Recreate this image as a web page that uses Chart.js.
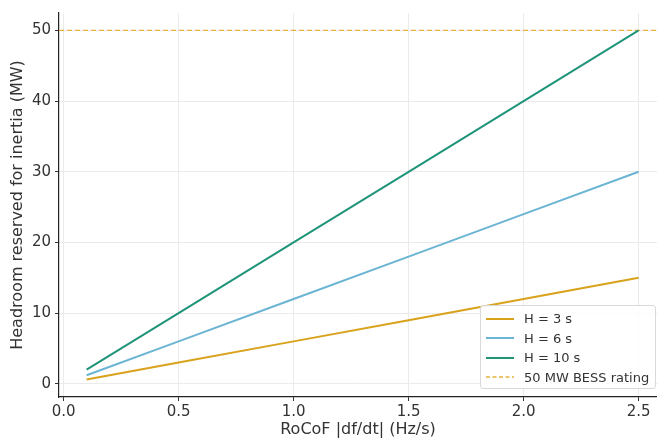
<!DOCTYPE html>
<html>
<head>
<meta charset="utf-8">
<script src="https://cdn.jsdelivr.net/npm/chart.js@4/dist/chart.umd.min.js"></script>
<style>
  html, body { margin: 0; padding: 0; background: #fff; }
  #wrap { position: relative; width: 657px; height: 442px; }
  #legend {
    position: absolute; left: 480px; top: 305px; width: 176px; height: 84px;
    border: 1px solid #d9d9d9; border-radius: 3px; background: rgba(255,255,255,0.85);
    font-family: "DejaVu Sans", sans-serif; font-size: 13px; color: #333;
    box-sizing: border-box; padding-top: 3px;
  }
  .item { display: flex; align-items: center; height: 19.5px; }
  .item svg { margin-left: 5px; margin-right: 10px; }
</style>
</head>
<body>
<div id="wrap">
  <canvas id="chart" width="657" height="442"></canvas>
  <div id="legend"></div>
</div>
<script>
(function() {
  // RoCoF values (Hz/s) and headroom (MW)
  const rocof = [0.1, 0.5, 1.0, 1.5, 2.0, 2.5];
  const headroomH3 = [0.6, 3, 6, 9, 12, 15];
  const headroomH6 = [1.2, 6, 12, 18, 24, 30];
  const headroomH10 = [2, 10, 20, 30, 40, 50];
  const seriesNames = ['H = 3 s', 'H = 6 s', 'H = 10 s'];
  const ratingName = '50 MW BESS rating';
  const bessRating = 50;

  const colors = ['#d9a21b', '#6bb4d4', '#1f9479'];
  const ratingColor = '#e4b43a';

  const xMin = -0.02, xMax = 2.58;
  const yMin = -1.87, yMax = 52.47;

  function toPoints(ys) {
    return rocof.map((x, i) => ({ x: x, y: ys[i] }));
  }

  const seriesValues = [headroomH3, headroomH6, headroomH10];
  const datasets = seriesValues.map((ys, i) => ({
    label: seriesNames[i],
    data: toPoints(ys),
    borderColor: colors[i],
    borderWidth: 2,
    pointRadius: 0,
    fill: false,
    tension: 0
  }));
  datasets.push({
    label: ratingName,
    data: [{ x: xMin, y: bessRating }, { x: xMax, y: bessRating }],
    borderColor: ratingColor,
    borderWidth: 1.3,
    borderDash: [5, 3],
    pointRadius: 0,
    fill: false
  });

  const font = { family: '"DejaVu Sans", sans-serif', size: 15 };
  const titleFont = { family: '"DejaVu Sans", sans-serif', size: 16 };
  const gridOpts = {
    color: '#ebebeb',
    lineWidth: 1,
    tickColor: '#333',
    tickLength: 4,
    drawTicks: true
  };

  new Chart(document.getElementById('chart').getContext('2d'), {
    type: 'line',
    data: { datasets: datasets },
    options: {
      responsive: false,
      animation: false,
      layout: { padding: { top: 5, right: 0, left: 8, bottom: 0 } },
      plugins: { legend: { display: false }, tooltip: { enabled: false } },
      scales: {
        x: {
          type: 'linear',
          min: xMin, max: xMax,
          border: { color: '#222', width: 1.2 },
          grid: Object.assign({}, gridOpts),
          ticks: {
            stepSize: 0.5, includeBounds: false, color: '#333', font: font, padding: 2,
            maxRotation: 0,
            callback: v => v.toFixed(1)
          },
          title: { display: true, text: 'RoCoF |df/dt| (Hz/s)', color: '#333', font: titleFont, padding: { top: 1, bottom: 3 } },
          afterFit: s => { s.height = 45; }
        },
        y: {
          type: 'linear',
          min: yMin, max: yMax,
          border: { color: '#222', width: 1.2 },
          grid: Object.assign({}, gridOpts),
          ticks: { stepSize: 10, includeBounds: false, color: '#333', font: font, padding: 4 },
          title: { display: true, text: 'Headroom reserved for inertia (MW)', color: '#333', font: titleFont, padding: { top: 0, bottom: 4 } },
          afterFit: s => { s.width = 51; }
        }
      }
    }
  });

  function swatch(color, dashed) {
    const dash = dashed ? ' stroke-dasharray="4 2.5"' : '';
    const w = dashed ? 1.3 : 2;
    return `<svg width="28" height="4"><line x1="0" y1="2" x2="28" y2="2" stroke="${color}" stroke-width="${w}"${dash}/></svg>`;
  }

  const legend = document.getElementById('legend');
  let html = '';
  seriesNames.forEach((name, i) => {
    html += `<div class="item">${swatch(colors[i], false)}${name}</div>`;
  });
  html += `<div class="item">${swatch(ratingColor, true)}${ratingName}</div>`;
  legend.innerHTML = html;
})();
</script>
</body>
</html>
